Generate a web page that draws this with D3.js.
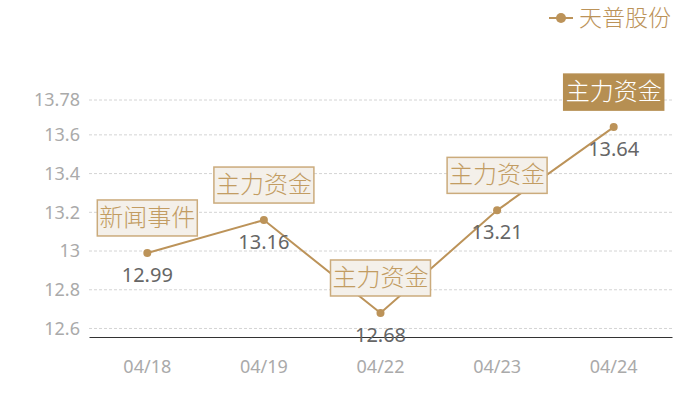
<!DOCTYPE html>
<html>
<head>
<meta charset="utf-8">
<script src="https://cdn.jsdelivr.net/npm/d3@7"></script>
<style>
  body { margin: 0; background: #fff; }
  svg text { font-family: "Noto Sans CJK SC", "Noto Sans", sans-serif; font-weight: 300; }
</style>
</head>
<body>
<div id="chart"></div>
<script>
//
//    Chart data
//
const dates = ['04/18', '04/19', '04/22', '04/23', '04/24']
const prices = [12.99, 13.16, 12.68, 13.21, 13.64]
const events = ['新闻事件', '主力资金', '主力资金', '主力资金', '主力资金']
const highlighted = [false, false, false, false, true]
const yTicks = [12.6, 12.8, 13, 13.2, 13.4, 13.6, 13.78]
const seriesName = '天普股份'

const gold = '#bc9359'
const width = 700
const height = 400
const margin = { top: 100, right: 28, bottom: 63, left: 89 }

const svg = d3.select('#chart').append('svg')
  .attr('width', width)
  .attr('height', height)

const x = d3.scaleBand()
  .domain(dates)
  .range([margin.left, width - margin.right])

const y = d3.scaleLinear()
  .domain([12.556, 13.78])
  .range([height - margin.bottom, margin.top])

// grid lines
svg.append('g')
  .selectAll('line')
  .data(yTicks)
  .enter()
  .append('line')
    .attr('x1', margin.left)
    .attr('x2', width - margin.right)
    .attr('y1', d => y(d))
    .attr('y2', d => y(d))
    .attr('stroke', '#d4d4d4')
    .attr('stroke-dasharray', '3,2')

// y axis labels
const yAxis = d3.axisLeft(y).tickValues(yTicks).tickSize(0).tickPadding(9)
  .tickFormat(d => String(d))
svg.append('g')
  .attr('transform', `translate(${margin.left},0)`)
  .call(yAxis)
  .call(g => g.select('.domain').remove())
  .call(g => g.selectAll('text')
    .attr('fill', '#aaaaaa')
    .style('font-size', '18px')
    .style('font-weight', 400)
    .style('font-family', '"Noto Sans", sans-serif'))

// x axis
const xAxis = d3.axisBottom(x).tickSize(0).tickPadding(23)
svg.append('g')
  .attr('transform', `translate(0,${height - margin.bottom})`)
  .call(xAxis)
  .call(g => g.select('.domain').attr('stroke', '#333').attr('stroke-width', 1))
  .call(g => g.selectAll('text')
    .attr('fill', '#aaaaaa')
    .style('font-size', '18px')
    .style('font-weight', 400)
    .style('font-family', '"Noto Sans", sans-serif'))

const points = dates.map((d, i) => ({
  date: d, value: prices[i], event: events[i], hot: highlighted[i]
}))
const cx = d => x(d.date) + x.bandwidth() / 2

// price line
const line = d3.line().x(cx).y(d => y(d.value))
svg.append('path')
  .datum(points)
  .attr('d', line)
  .attr('fill', 'none')
  .attr('stroke', gold)
  .attr('stroke-width', 2)

svg.append('g')
  .selectAll('circle')
  .data(points)
  .enter()
  .append('circle')
    .attr('cx', cx)
    .attr('cy', d => y(d.value))
    .attr('r', 4)
    .attr('fill', gold)

// value labels
svg.append('g')
  .selectAll('text')
  .data(points)
  .enter()
  .append('text')
    .attr('x', cx)
    .attr('y', d => y(d.value) + 29)
    .attr('text-anchor', 'middle')
    .attr('fill', '#666')
    .style('font-size', '20px')
    .style('font-weight', 400)
    .style('font-family', '"Noto Sans", sans-serif')
    .text(d => d.value)

// event tags
const boxW = 100
const boxH = 36
const tags = svg.append('g')
  .selectAll('g')
  .data(points)
  .enter()
  .append('g')
    .attr('transform', d => `translate(${cx(d) - boxW / 2},${y(d.value) - 17 - boxH})`)
tags.append('rect')
  .attr('width', boxW)
  .attr('height', boxH)
  .attr('fill', d => d.hot ? '#b68f52' : '#f4f0ea')
  .attr('stroke', d => d.hot ? '#b68f52' : '#cbab7c')
  .attr('stroke-width', 1.5)
tags.append('text')
  .attr('x', boxW / 2)
  .attr('y', boxH / 2 + 8)
  .attr('text-anchor', 'middle')
  .attr('fill', d => d.hot ? '#fff' : '#c29c62')
  .style('font-size', '24px')
  .text(d => d.event)

// legend
const legend = svg.append('g').attr('transform', 'translate(549,18)')
legend.append('line')
  .attr('x1', 0).attr('x2', 24)
  .attr('stroke', gold).attr('stroke-width', 2)
legend.append('circle')
  .attr('cx', 12).attr('r', 5).attr('fill', gold)
legend.append('text')
  .attr('x', 30)
  .attr('y', 8)
  .attr('fill', gold)
  .style('font-size', '23px')
  .text(seriesName)
</script>
</body>
</html>
